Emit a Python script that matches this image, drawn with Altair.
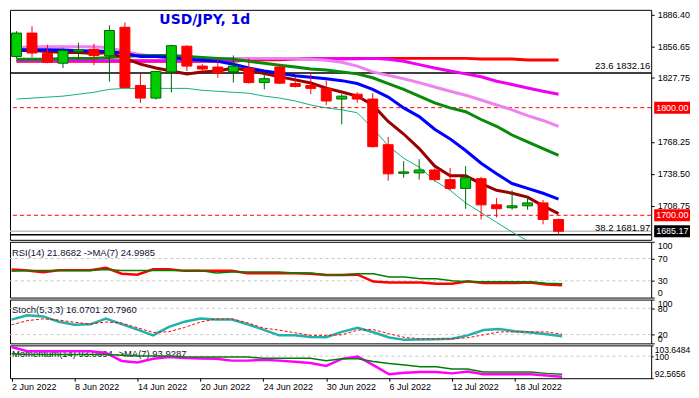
import altair as alt
import pandas as pd

# ---------------- data ----------------
dates = ["2 Jun 2022", "3 Jun 2022", "6 Jun 2022", "7 Jun 2022", "8 Jun 2022", "9 Jun 2022",
         "10 Jun 2022", "13 Jun 2022", "14 Jun 2022", "15 Jun 2022", "16 Jun 2022", "17 Jun 2022",
         "20 Jun 2022", "21 Jun 2022", "22 Jun 2022", "23 Jun 2022", "24 Jun 2022", "27 Jun 2022",
         "28 Jun 2022", "29 Jun 2022", "30 Jun 2022", "1 Jul 2022", "4 Jul 2022", "5 Jul 2022",
         "6 Jul 2022", "7 Jul 2022", "8 Jul 2022", "11 Jul 2022", "12 Jul 2022", "13 Jul 2022",
         "14 Jul 2022", "15 Jul 2022", "18 Jul 2022", "19 Jul 2022", "20 Jul 2022", "21 Jul 2022"]

open_ = [1847.6, 1869.3, 1850.3, 1841.3, 1851.9, 1854.2, 1848.3, 1874.7, 1820.6, 1808.9, 1833.2, 1857.1,
         1838.6, 1837.7, 1833.2, 1836.8, 1823.3, 1837.7, 1822.4, 1820.6, 1817.9, 1808.0, 1812.5, 1808.0,
         1765.6, 1739.0, 1739.4, 1742.1, 1733.1, 1725.0, 1734.0, 1709.7, 1707.0, 1708.8, 1711.5, 1696.1]
high = [1871.1, 1875.6, 1858.5, 1855.7, 1860.3, 1859.4, 1876.5, 1879.2, 1831.4, 1834.1, 1858.5, 1858.0,
        1840.4, 1845.8, 1848.5, 1845.8, 1831.4, 1840.4, 1828.7, 1832.3, 1825.1, 1812.5, 1814.3, 1813.4,
        1772.8, 1750.2, 1752.1, 1743.5, 1743.9, 1745.7, 1735.8, 1716.0, 1723.2, 1717.8, 1714.2, 1697.0]
low = [1845.8, 1846.7, 1841.3, 1836.8, 1844.9, 1839.5, 1824.2, 1818.3, 1804.4, 1807.5, 1814.3, 1834.1,
       1834.6, 1827.8, 1823.3, 1822.4, 1817.0, 1821.9, 1818.8, 1812.5, 1802.5, 1784.5, 1804.4, 1762.9,
       1732.2, 1734.9, 1733.1, 1731.3, 1723.2, 1706.1, 1696.1, 1698.0, 1705.2, 1705.2, 1691.6, 1682.2]
close = [1869.3, 1850.8, 1842.2, 1853.0, 1853.7, 1848.3, 1871.7, 1818.8, 1808.9, 1833.7, 1857.6, 1838.6,
         1835.9, 1832.3, 1838.6, 1823.3, 1826.9, 1822.8, 1819.7, 1817.9, 1806.2, 1810.7, 1808.0, 1763.8,
         1738.5, 1740.3, 1742.1, 1733.1, 1725.0, 1734.9, 1709.7, 1706.1, 1708.8, 1711.5, 1696.1, 1685.17]

ma_fast = [1853.0, 1853.0, 1852.1, 1851.2, 1851.2, 1850.3, 1851.2, 1845.8, 1840.4, 1836.8, 1834.1, 1831.4,
           1833.2, 1834.1, 1836.8, 1834.5, 1831.6, 1828.7, 1825.8, 1822.9, 1818.1, 1814.5, 1810.8, 1802.5,
           1787.2, 1775.5, 1762.0, 1745.7, 1736.7, 1736.7, 1729.5, 1723.2, 1720.5, 1716.9, 1708.8, 1701.6]
ma_blue = [1853.9, 1853.9, 1853.9, 1853.5, 1853.0, 1852.6, 1852.1, 1850.3, 1847.6, 1847.6, 1846.7, 1844.9,
           1844.0, 1843.1, 1840.4, 1836.8, 1834.1, 1831.9, 1829.6, 1828.2, 1826.9, 1825.1, 1822.4, 1817.0,
           1809.8, 1799.8, 1791.7, 1780.0, 1771.0, 1760.2, 1748.4, 1738.5, 1729.5, 1725.0, 1720.5, 1715.1]
ma_green = [1844.9, 1844.9, 1844.9, 1845.8, 1845.8, 1845.8, 1846.7, 1847.6, 1848.5, 1848.5, 1848.5, 1847.6,
            1846.7, 1845.8, 1844.9, 1843.1, 1841.3, 1839.5, 1837.7, 1835.9, 1835.0, 1833.2, 1831.4, 1827.8,
            1822.4, 1817.0, 1810.7, 1804.4, 1799.8, 1796.2, 1789.0, 1782.7, 1774.6, 1768.3, 1762.0, 1755.7]
ma_violet = [1855.7, 1856.6, 1856.6, 1856.6, 1856.6, 1856.6, 1855.7, 1852.1, 1849.4, 1847.6, 1846.7, 1845.8,
             1845.8, 1845.8, 1845.8, 1845.8, 1845.8, 1845.8, 1845.8, 1844.9, 1844.0, 1842.2, 1838.6, 1833.2,
             1830.0, 1826.9, 1823.3, 1819.2, 1815.2, 1811.6, 1807.1, 1802.5, 1798.0, 1792.6, 1788.1, 1782.7]
ma_magenta = [1843.6, 1843.6, 1843.6, 1843.6, 1843.6, 1843.6, 1843.6, 1843.6, 1843.6, 1843.6, 1843.6, 1843.6,
              1843.6, 1843.6, 1843.6, 1845.4, 1845.4, 1845.4, 1845.4, 1845.4, 1845.4, 1845.4, 1845.4, 1845.8,
              1844.9, 1843.1, 1840.0, 1836.8, 1834.1, 1831.4, 1828.7, 1824.6, 1821.5, 1818.3, 1815.2, 1812.5]
ma_red = [1843.1, 1843.1, 1843.1, 1843.1, 1843.1, 1843.1, 1843.1, 1843.1, 1843.1, 1843.1, 1843.1, 1843.1,
          1843.1, 1843.1, 1843.1, 1844.5, 1844.5, 1844.5, 1845.4, 1845.4, 1845.4, 1845.4, 1845.8, 1845.8,
          1845.8, 1845.8, 1845.8, 1845.8, 1845.8, 1845.8, 1845.2, 1845.2, 1845.2, 1844.3, 1844.3, 1844.3]
band_low = [1808.0, 1808.9, 1809.8, 1810.7, 1812.5, 1814.3, 1817.0, 1817.9, 1817.9, 1817.9, 1817.9, 1817.9,
            1816.1, 1815.2, 1814.3, 1813.4, 1810.7, 1808.9, 1806.2, 1802.5, 1799.8, 1798.0, 1795.3, 1780.9,
            1764.7, 1753.0, 1744.8, 1732.2, 1723.2, 1711.5, 1702.5, 1693.4, 1684.4, 1676.3, 1667.3, 1659.2]

rsi14 = [50.3, 48.4, 45.3, 49.0, 49.0, 49.0, 53.4, 42.9, 41.1, 50.8, 50.8, 47.9, 47.9, 47.9, 47.9, 43.5,
         43.5, 43.5, 43.5, 42.9, 40.5, 40.5, 41.1, 28.7, 26.9, 26.9, 26.9, 25.0, 25.0, 29.1, 26.3, 26.3,
         26.3, 27.2, 23.5, 21.9]
rsi_ma7 = [47.1, 48.4, 48.4, 48.4, 48.4, 48.4, 50.3, 48.4, 48.4, 48.4, 48.4, 48.4, 48.4, 44.2, 46.0, 46.0,
           46.0, 46.0, 44.2, 44.2, 41.1, 41.1, 42.9, 42.9, 36.8, 36.8, 33.7, 33.7, 30.0, 28.2, 28.2, 28.2,
           28.2, 28.2, 25.8, 25.0]
stoch_k = [54.3, 63.9, 61.5, 49.5, 42.3, 43.5, 56.7, 44.0, 31.5, 18.3, 37.5, 49.5, 56.7, 54.3, 54.3, 43.5,
           31.5, 18.3, 18.3, 14.7, 14.2, 26.2, 35.8, 25.5, 13.5, 8.0, 8.7, 9.4, 10.4, 18.3, 30.3, 32.7,
           27.9, 24.8, 20.7, 16.1]
stoch_d = [42.3, 51.9, 56.0, 53.1, 48.3, 44.0, 48.8, 46.4, 35.8, 24.8, 26.7, 36.3, 48.8, 55.5, 56.0, 47.1,
           35.1, 30.3, 24.3, 18.3, 18.3, 19.5, 30.3, 31.5, 21.9, 13.5, 10.4, 10.4, 10.4, 12.8, 19.5, 26.2,
           26.2, 26.2, 26.2, 20.8]
mom14 = [103.1, 101.7, 101.7, 101.7, 101.7, 101.7, 101.1, 98.4, 97.9, 99.1, 99.7, 99.4, 99.2, 99.1, 98.5,
         98.5, 98.8, 98.5, 98.1, 97.7, 96.7, 99.1, 99.9, 97.0, 93.9, 94.4, 94.7, 94.7, 94.2, 94.8, 93.9,
         93.9, 93.9, 93.9, 93.5, 93.07]
mom_ma7 = [100.8, 100.6, 100.6, 100.6, 100.6, 100.6, 100.6, 100.3, 100.1, 100.1, 100.1, 99.8, 99.7, 99.7,
           99.7, 99.7, 99.3, 99.3, 99.3, 99.3, 98.5, 99.1, 99.1, 98.2, 97.5, 97.0, 96.4, 96.4, 95.7, 95.7,
           94.7, 94.7, 94.7, 94.7, 94.2, 93.9]

main_ticks = [1886.40, 1856.65, 1827.75, 1768.25, 1738.50, 1708.75]
marked_levels = [1800.00, 1700.00]
fib_levels = [1832.16, 1681.97]
fib_labels = ["23.6 1832.16", "38.2 1681.97"]
last_price = 1685.17
box_values = [1800.00, 1700.00, 1685.17]
box_labels = ["1800.00", "1700.00", "1685.17"]
box_colors = ["#ff0000", "#ff0000", "#000000"]
rsi_levels = [70, 30]
rsi_ticks = [100, 70, 30, 0]
stoch_levels = [80, 20]
stoch_ticks = [100, 80, 20, 0]
mom_levels = [100]
mom_ticks = [103.6484, 100, 92.5656]
x_ticks = [0, 4, 8, 12, 16, 20, 24, 28, 32]
title_text = "USD/JPY, 1d"
rsi_text = "RSI(14) 21.8682  ->MA(7) 24.9985"
stoch_text = "Stoch(5,3,3) 16.0701 20.7960"
mom_text = "Momentum(14) 93.0694  ->MA(7) 93.9287"

# ---------------- layout ----------------
W = 644
H_MAIN, H_RSI, H_STO, H_MOM = 231, 56, 44, 33
FONT = "Liberation Sans"
FS_AX = 9
FS = 9.5
TXT = "#101030"

idx = list(range(len(dates)))
xsc = alt.Scale(domain=[-0.1, 40.66], nice=False, zero=False)
X_none = alt.X("i:Q", scale=xsc, axis=None)


def right_axis(values, fmt=None, flush=False, expr=None, fs=FS_AX, tick=3, pad=3):
    kw = dict(orient="right", values=values, tickSize=tick, tickColor="black", labelPadding=pad,
              labelFont=FONT, labelFontSize=fs, labelColor="black", domain=False, grid=False,
              title=None, labelOverlap=False, labelFlush=flush)
    if fmt:
        kw["format"] = fmt
    if expr:
        kw["labelExpr"] = expr
    return alt.Axis(**kw)


class Panel:
    def __init__(self, scale, axis, x):
        self.scale, self.axis, self.x = scale, axis, x

    def Y(self, field):
        return alt.Y(field, type="quantitative", scale=self.scale, axis=self.axis)

    def line(self, frame, col, color, width, dash=None):
        kw = dict(color=color, strokeWidth=width, clip=True)
        if dash:
            kw["strokeDash"] = dash
        return alt.Chart(frame).mark_line(**kw).encode(x=self.x, y=self.Y(col))

    def levels(self, vals, color, width, dash=None):
        kw = dict(color=color, strokeWidth=width)
        if dash:
            kw["strokeDash"] = dash
        return alt.Chart(pd.DataFrame({"v": vals})).mark_rule(**kw).encode(y=self.Y("v"))


def panel_label(text, ypix):
    return alt.Chart(pd.DataFrame({"t": [text]})).mark_text(
        align="left", baseline="middle", font=FONT, fontSize=FS, color=TXT
    ).encode(x=alt.value(2), y=alt.value(ypix), text="t:N")


# ---------------- main price panel ----------------
P = Panel(alt.Scale(domain=[1677.2, 1890.9], nice=False, zero=False),
          right_axis(main_ticks, ".2f"), X_none)
candles = pd.DataFrame({"i": idx, "open": open_, "high": high, "low": low, "close": close})
candles["dir"] = ["up" if c >= o else "down" for o, c in zip(open_, close)]
fill_scale = alt.Scale(domain=["up", "down"], range=["#00cc00", "#ff0000"])
edge_scale = alt.Scale(domain=["up", "down"], range=["#006400", "#ff0000"])

ma = pd.DataFrame({"i": idx, "fast": ma_fast, "blue": ma_blue, "green": ma_green, "violet": ma_violet,
                   "magenta": ma_magenta, "red": ma_red, "band": band_low})

wicks = alt.Chart(candles).mark_rule(strokeWidth=1, clip=True).encode(
    x=X_none, y=P.Y("low"), y2="high",
    color=alt.Color("dir:N", scale=edge_scale, legend=None))
bodies = alt.Chart(candles).mark_bar(size=10, strokeWidth=1, clip=True).encode(
    x=X_none, y=P.Y("open"), y2="close",
    fill=alt.Fill("dir:N", scale=fill_scale, legend=None),
    stroke=alt.Stroke("dir:N", scale=edge_scale, legend=None))

fib_df = pd.DataFrame({"v": fib_levels, "label": fib_labels})
fib_lines = alt.Chart(fib_df).mark_rule(color="black", strokeWidth=1.5).encode(y=P.Y("v"))
fib_text = alt.Chart(fib_df).mark_text(align="right", baseline="bottom", dy=-2, font=FONT, fontSize=FS,
                                       color="black").encode(x=alt.value(W - 1), y=P.Y("v"),
                                                             text="label:N")
box_df = pd.DataFrame({"v": box_values, "label": box_labels, "bg": box_colors})
boxes = alt.Chart(box_df).mark_tick(orient="horizontal", size=36, thickness=12, opacity=1,
                                    clip=False).encode(
    x=alt.value(W + 21), y=P.Y("v"), color=alt.Color("bg:N", scale=None))
box_text = alt.Chart(box_df).mark_text(align="left", baseline="middle", font=FONT, fontSize=FS_AX,
                                       color="white", clip=False).encode(
    x=alt.value(W + 5), y=P.Y("v"), text="label:N")
title = alt.Chart(pd.DataFrame({"t": [title_text]})).mark_text(
    align="left", baseline="middle", font="DejaVu Sans", fontSize=14, fontWeight="bold",
    color="#0000e0").encode(x=alt.value(150), y=alt.value(10), text="t:N")

main = alt.layer(
    P.levels(marked_levels, "#ff0000", 1, [4, 3]),
    fib_lines,
    P.levels([last_price], "#c0c0c0", 1.5),
    P.line(ma, "band", "#10b080", 1),
    P.line(ma, "red", "#ff0000", 3),
    P.line(ma, "magenta", "#f000f0", 3),
    P.line(ma, "violet", "#ee82ee", 3),
    P.line(ma, "green", "#0a8a0a", 3),
    P.line(ma, "fast", "#990000", 3),
    P.line(ma, "blue", "#0000ff", 3),
    wicks, bodies, fib_text, boxes, box_text, title,
).properties(width=W, height=H_MAIN)

# ---------------- RSI ----------------
R = Panel(alt.Scale(domain=[0, 100], nice=False), right_axis(rsi_ticks, "d", True), X_none)
rsi_df = pd.DataFrame({"i": idx, "rsi": rsi14, "ma": rsi_ma7})
rsi = alt.layer(
    R.levels(rsi_levels, "#c8c8c8", 1, [3, 3]),
    panel_label(rsi_text, 11),
    R.line(rsi_df, "rsi", "#ff0000", 2.5),
    R.line(rsi_df, "ma", "#008000", 1.5),
).properties(width=W, height=H_RSI)

# ---------------- Stochastic ----------------
S = Panel(alt.Scale(domain=[0, 100], nice=False), right_axis(stoch_ticks, "d", True), X_none)
sto_df = pd.DataFrame({"i": idx, "k": stoch_k, "d": stoch_d})
sto = alt.layer(
    S.levels(stoch_levels, "#c8c8c8", 1, [3, 3]),
    panel_label(stoch_text, 10),
    S.line(sto_df, "k", "#20b2aa", 2.5),
    S.line(sto_df, "d", "#ff0000", 1, [3, 2]),
).properties(width=W, height=H_STO)

# ---------------- Momentum ----------------
label_array = "[" + ",".join("'" + d + "'" for d in dates) + "]"
x_axis = alt.Axis(values=x_ticks, labelExpr=label_array + "[datum.value]", labelAlign="left",
                  tickSize=3, tickColor="black", labelPadding=1, labelFont=FONT, labelFontSize=FS_AX,
                  labelColor="black", domain=False, grid=False, title=None, labelOverlap=False,
                  labelFlush=False)
M = Panel(alt.Scale(domain=[92.5656, 103.6484], nice=False, zero=False),
          right_axis(mom_ticks, None, True, "datum.value == 100 ? '100' : format(datum.value, '.4f')",
                     fs=8.6, tick=2, pad=1),
          alt.X("i:Q", scale=xsc, axis=x_axis))
mom_df = pd.DataFrame({"i": idx, "m": mom14, "ma": mom_ma7})
mom = alt.layer(
    M.levels(mom_levels, "#c8c8c8", 1, [3, 3]),
    panel_label(mom_text, 9),
    M.line(mom_df, "m", "#ff00ff", 2.5),
    M.line(mom_df, "ma", "#008000", 1.5),
).properties(width=W, height=H_MOM)

chart = alt.vconcat(main, rsi, sto, mom, spacing=2, bounds="flush", padding=0).configure(
    background="white").configure_view(stroke="black", strokeWidth=1)

chart.save("out.html", embed_options={"renderer": "svg", "actions": False})
